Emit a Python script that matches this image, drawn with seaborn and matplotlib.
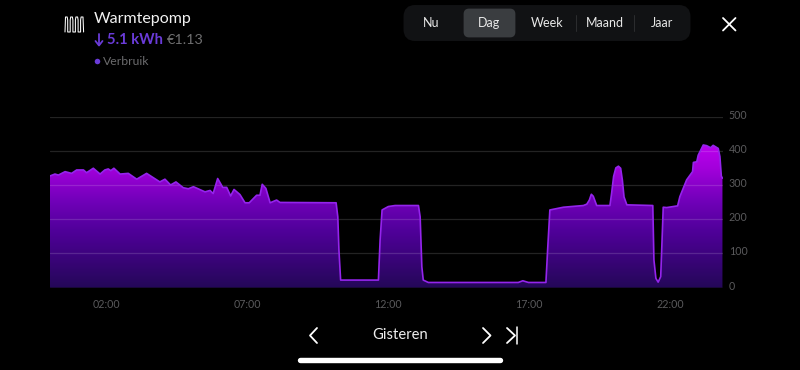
import numpy as np
import pandas as pd
import matplotlib
matplotlib.use('Agg')
import matplotlib.pyplot as plt
from matplotlib.colors import LinearSegmentedColormap
from matplotlib.patches import FancyBboxPatch, PathPatch
from matplotlib.transforms import ScaledTranslation
import seaborn as sns

hours = [0, 0.19, 0.31, 0.55, 0.78, 0.96, 1.2, 1.31, 1.55, 1.79, 1.96, 2.08, 2.17, 2.28, 2.5, 2.79, 3.09,
         3.44, 3.91, 4.09, 4.29, 4.48, 4.74, 4.92, 5.1, 5.51, 5.69, 5.8, 5.96, 6.14, 6.28, 6.42, 6.54, 6.75,
         6.93, 7.08, 7.34, 7.46, 7.54, 7.67, 7.82, 8.05, 8.17, 10.16, 10.22, 10.26, 10.32, 11.66, 11.72, 11.79,
         12.01, 12.25, 13.08, 13.14, 13.2, 13.25, 13.43, 16.62, 16.78, 16.98, 17.6, 17.66, 17.74, 18.22, 18.93,
         19.05, 19.14, 19.21, 19.28, 19.4, 19.87, 19.93, 20.0, 20.08, 20.17, 20.25, 20.31, 20.37, 20.47, 21.39, 21.43, 21.5,
         21.58, 21.67, 21.71, 21.76, 21.88, 22.27, 22.35, 22.59, 22.8, 22.83, 22.95, 23.0, 23.18, 23.3, 23.44, 23.53,
         23.71, 23.77, 23.82, 23.86]
usage = [326, 332, 329, 339, 334, 344, 344, 336, 349, 332, 344, 347, 342, 349, 332, 334, 317,
         334, 309, 317, 300, 309, 292, 289, 295, 280, 284, 275, 319, 293, 293, 268, 287, 272,
         248, 248, 270, 270, 302, 290, 248, 256, 249, 248, 207, 110, 22, 22, 139, 227,
         237, 240, 240, 207, 61, 22, 15, 15, 20, 15, 15, 110, 227, 235, 240,
         244, 256, 273, 267, 240, 240, 276, 325, 350, 355, 349, 315, 265, 242, 240, 81, 27,
         16, 32, 120, 235, 234, 239, 266, 315, 339, 366, 368, 387, 417, 415, 409, 416,
         407, 383, 326, 320]
y_ticks = [0, 100, 200, 300, 400, 500]
x_ticks = [2, 7, 12, 17, 22]
x_labels = ['02:00', '07:00', '12:00', '17:00', '22:00']
periods = ['Nu', 'Dag', 'Week', 'Maand', 'Jaar']
period_x = [431, 489, 547, 605, 662]

sns.set_style('dark', {'axes.facecolor': 'black', 'figure.facecolor': 'black'})
plt.rcParams['font.family'] = ['Lato', 'DejaVu Sans']

df = pd.DataFrame({'hour': hours, 'usage': usage})

fig = plt.figure(figsize=(8, 3.7), dpi=100, facecolor='black')
x0, x1 = 49.6, 722.5
y0, y1 = 287.6, 116.6
ax = fig.add_axes([x0/800, 1-y0/370, (x1-x0)/800, (y0-y1)/370])
ax.set_facecolor('black')

# fill with a vertical gradient clipped to the area
cmap = LinearSegmentedColormap.from_list('verbruik', [(0, '#240858'), (0.4, '#50009a'), (0.6, '#7000b8'),
                                                      (0.84, '#a400dc'), (1, '#bc00ee')])
poly = ax.fill_between(df['hour'], df['usage'], color='none', lw=0)
grad = np.linspace(0, 1, 256).reshape(-1, 1)
im = ax.imshow(grad, origin='lower', aspect='auto', cmap=cmap, extent=[0, 24, 0, 420], zorder=1)
clip = PathPatch(poly.get_paths()[0], transform=ax.transData, fc='none', ec='none')
ax.add_patch(clip)
im.set_clip_path(clip)

sns.lineplot(data=df, x='hour', y='usage', color='#9424ec', lw=1.2, ax=ax, zorder=3)
ax.set_xlim(0, (x1-x0)/28.2)
ax.set_ylim(0, 500)
ax.set_xlabel('')
ax.set_ylabel('')

for t in y_ticks:
    ax.axhline(t, color='white', alpha=0.14, lw=0.9, zorder=2)
for s in ax.spines.values():
    s.set_visible(False)
ax.grid(False)
ax.yaxis.tick_right()
ax.set_yticks(y_ticks)
ax.set_xticks(x_ticks)
ax.set_xticklabels(x_labels)
ax.tick_params(axis='both', length=0, colors='#5a5a5c', labelsize=7.7)
ax.tick_params(axis='y', pad=4.5)
ax.tick_params(axis='x', pad=8.5)
shift = ScaledTranslation(0, 2.5/100, fig.dpi_scale_trans)
for lab in ax.get_yticklabels():
    lab.set_transform(lab.get_transform() + shift)

# app chrome, in pixel coordinates
ui = fig.add_axes([0, 0, 1, 1], zorder=5)
ui.set_xlim(0, 800)
ui.set_ylim(370, 0)
ui.axis('off')
ui.patch.set_alpha(0)

ui.plot([65, 65.5, 67.2, 67.7, 67.7, 70.2, 70.2, 70.7, 72.4, 72.9, 72.9, 75.4, 75.4, 75.9, 77.6, 78.1, 78.1, 80.6, 80.6, 81.1, 83, 83.6],
        [32, 17, 17, 20, 32, 32, 20, 17, 17, 20, 32, 32, 20, 17, 17, 20, 32, 32, 20, 17, 17, 32],
        color='white', lw=0.75)
ui.text(94, 18.5, 'Warmtepomp', color='#f2f2f2', fontsize=11.5, va='center')
ui.plot([99, 99], [34, 45], color='#6a3bd8', lw=1.3)
ui.plot([95.5, 99, 102.5], [41, 45.5, 41], color='#6a3bd8', lw=1.3)
ui.text(107, 40, '5.1 kWh', color='#6a3bd8', fontsize=10.6, fontweight='bold', va='center')
ui.text(167, 40, '€1.13', color='#6f6f70', fontsize=10.4, va='center')
ui.scatter([96.5], [61], s=16, color='#6a3bd8', lw=0)
ui.text(103, 61.5, 'Verbruik', color='#6b6b6d', fontsize=8.8, va='center')

ui.add_patch(FancyBboxPatch((407, 8.5), 280, 29, boxstyle='round,pad=0,rounding_size=8', fc='#111214', ec='#111214', lw=5))
ui.add_patch(FancyBboxPatch((465, 10), 49, 26, boxstyle='round,pad=0,rounding_size=4', fc='#3a3d40', ec='#3a3d40', lw=2))
for sx in [575.5, 633.5]:
    ui.plot([sx, sx], [15, 31], color='#2c2d2f', lw=0.7)
for name, px in zip(periods, period_x):
    ui.text(px, 23, name, color='#e8e8e8', fontsize=9, ha='center', va='center')

ui.plot([723, 735.5], [18, 30.5], color='white', lw=1.3)
ui.plot([723, 735.5], [30.5, 18], color='white', lw=1.3)

ui.plot([317, 310, 317], [328, 335.5, 343], color='white', lw=1.3)
ui.text(400, 335, 'Gisteren', color='#eeeeee', fontsize=10.6, ha='center', va='center')
ui.plot([483, 490.5, 483], [328, 335.5, 343], color='white', lw=1.3)
ui.plot([507, 515, 507], [328, 335.5, 343], color='white', lw=1.3)
ui.plot([517, 517], [327, 344], color='white', lw=1.1)
ui.plot([300, 500], [359.5, 359.5], color='white', lw=3.9, solid_capstyle='round')

fig.savefig('out.png', dpi=100, facecolor='black')
